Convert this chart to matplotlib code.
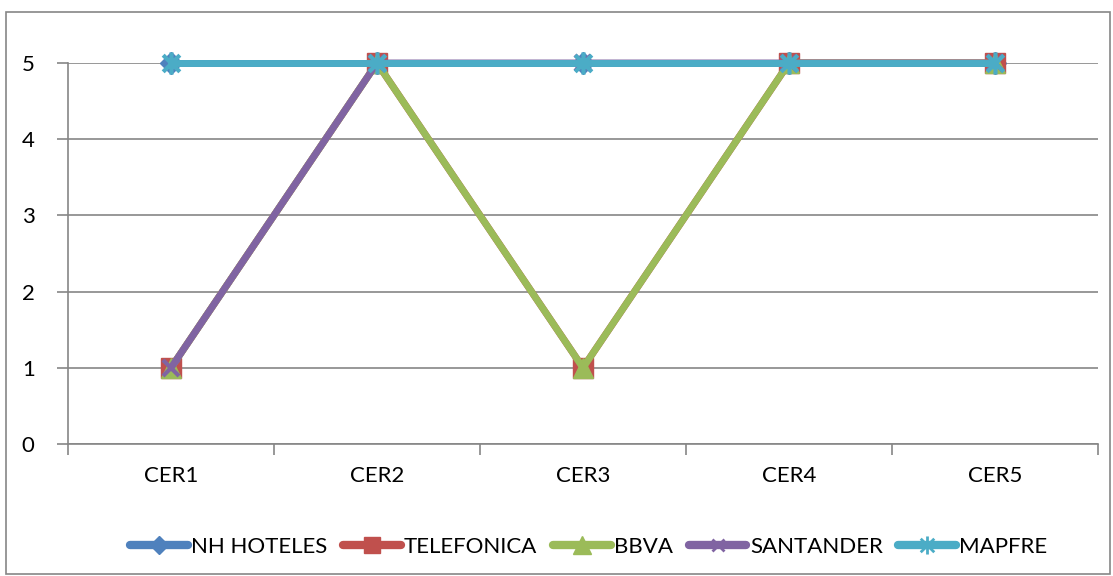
import matplotlib
matplotlib.use("Agg")
import matplotlib.pyplot as plt
from matplotlib.path import Path
from matplotlib.patches import Rectangle
from matplotlib.lines import Line2D

categories = ["CER1", "CER2", "CER3", "CER4", "CER5"]
series_names = ["NH HOTELES", "TELEFONICA", "BBVA", "SANTANDER", "MAPFRE"]
nh_hoteles = [5, 5, 5, 5, 5]
telefonica = [1, 5, 1, 5, 5]
bbva = [1, 5, 1, 5, 5]
santander = [1, 5, 5, 5, 5]
mapfre = [5, 5, 5, 5, 5]
y_ticks = [0, 1, 2, 3, 4, 5]

values = [nh_hoteles, telefonica, bbva, santander, mapfre]
colors = ["#4F81BD", "#C0504D", "#9BBB59", "#8064A2", "#4BACC6"]

# asterisk: vertical stroke plus two diagonals
star = Path([(0, -1), (0, 1), (-0.75, -0.75), (0.75, 0.75), (-0.75, 0.75), (0.75, -0.75)],
            [Path.MOVETO, Path.LINETO, Path.MOVETO, Path.LINETO, Path.MOVETO, Path.LINETO])

styles = [
    dict(marker="D", markersize=11, mec=colors[0], mfc=colors[0]),
    dict(marker="s", markersize=14, mec=colors[1], mfc=colors[1]),
    dict(marker="^", markersize=15, mec=colors[2], mfc=colors[2]),
    dict(marker="x", markersize=11, mec=colors[3], mew=3),
    dict(marker=star, markersize=16, mec=colors[4], mew=3),
]
legend_styles = [
    dict(marker="D", markersize=9, mec=colors[0], mfc=colors[0]),
    dict(marker="s", markersize=12, mec=colors[1], mfc=colors[1]),
    dict(marker="^", markersize=13, mec=colors[2], mfc=colors[2]),
    dict(marker="x", markersize=9, mec=colors[3], mew=2),
    dict(marker=star, markersize=13, mec=colors[4], mew=2),
]

plt.rcParams["font.family"] = ["Lato", "DejaVu Sans"]
fig = plt.figure(figsize=(11.13, 5.76), dpi=100)
fig.patches.append(Rectangle((6 / 1113, 2 / 576), 1104 / 1113, 562 / 576,
                             transform=fig.transFigure, fill=False,
                             edgecolor="#868686", linewidth=1.2))

ax = fig.add_axes([68 / 1113, 1 - 444 / 576, 1030 / 1113, 381 / 576])
x = list(range(len(categories)))
for name, vals, col, st in zip(series_names, values, colors, styles):
    ax.plot(x, vals, color=col, linewidth=5, solid_capstyle="round",
            label=name, clip_on=False, **st)

ax.set_xlim(-0.5, len(categories) - 0.5)
ax.set_ylim(0, 5)
ax.set_yticks(y_ticks)
ax.set_yticklabels([str(v) for v in y_ticks], fontsize=16)
ax.set_xticks(x)
ax.set_xticklabels(categories, fontsize=16)
ax.set_xticks([i - 0.5 for i in range(len(categories) + 1)], minor=True)
ax.tick_params(axis="x", which="major", length=0, pad=16)
ax.tick_params(axis="x", which="minor", length=8, width=1.2, color="#868686", direction="out")
ax.tick_params(axis="y", length=8, width=1.2, color="#868686", direction="out", pad=16)
ax.yaxis.grid(True, color="#868686", linewidth=1.2, zorder=0)
ax.set_axisbelow(True)
for side in ["top", "right"]:
    ax.spines[side].set_visible(False)
for side in ["left", "bottom"]:
    ax.spines[side].set_color("#868686")
    ax.spines[side].set_linewidth(1.2)

handles = [Line2D([0], [0], color=c, linewidth=6, solid_capstyle="round", **st)
           for c, st in zip(colors, legend_styles)]
fig.legend(handles, series_names, loc="center", bbox_to_anchor=(0.529, 1 - 547 / 576),
           ncol=5, frameon=False, fontsize=16, handlelength=2.6, handletextpad=0.15,
           columnspacing=0.7)

fig.savefig("out.png", dpi=100)
